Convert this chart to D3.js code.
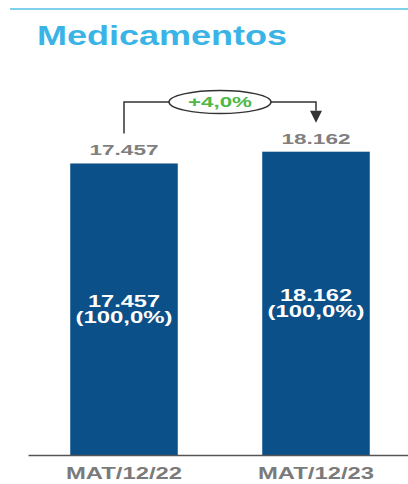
<!DOCTYPE html>
<html>
<head>
<meta charset="utf-8">
<script src="https://cdn.jsdelivr.net/npm/d3@7"></script>
<style>
  body { margin: 0; background: #fff; }
  text { font-family: "Liberation Sans", Arial, sans-serif; font-weight: bold; }
</style>
</head>
<body>
<div id="chart"></div>
<script>
const title = "Medicamentos";
const periods = ["MAT/12/22", "MAT/12/23"];
const values = [17457, 18162];
const shares = [1, 1];

const W = 408, H = 484;
const base = 455;

const loc = d3.formatLocale({decimal: ",", thousands: ".", grouping: [3], currency: ["", ""]});
const fmtNum = loc.format(",d");
const fmtPct = loc.format(".1%");
const fmtGrowth = loc.format("+.1%");

const svg = d3.select("#chart").append("svg")
  .attr("width", W).attr("height", H);

// top rule + title
svg.append("line")
  .attr("x1", 10).attr("x2", W).attr("y1", 9).attr("y2", 9)
  .attr("stroke", "#7fd0ea").attr("stroke-width", 2);

svg.append("text")
  .attr("x", 37).attr("y", 45)
  .attr("font-size", 27)
  .attr("fill", "#3ab4e6")
  .attr("textLength", 250).attr("lengthAdjust", "spacingAndGlyphs")
  .text(title);

const x = d3.scaleBand()
  .domain(periods)
  .range([28, 412])
  .paddingInner(0.44)
  .paddingOuter(0.22);

const y = d3.scaleLinear()
  .domain([0, 20000])
  .range([base, 121]);

// bars
svg.append("g").selectAll("rect")
  .data(values)
  .join("rect")
  .attr("x", (d, i) => x(periods[i]))
  .attr("y", d => y(d))
  .attr("width", x.bandwidth())
  .attr("height", d => base - y(d))
  .attr("fill", "#0b5088");

// x axis
const axis = svg.append("g")
  .attr("transform", `translate(0,${base})`)
  .call(d3.axisBottom(x).tickSize(0).tickPadding(13));
axis.select(".domain").attr("stroke", "#555").attr("stroke-width", 1.5);
axis.selectAll("text")
  .attr("font-size", 16)
  .attr("fill", "#7a7a7a")
  .attr("textLength", 116).attr("lengthAdjust", "spacingAndGlyphs");

const cx = i => x(periods[i]) + x.bandwidth() / 2;

// value labels above bars
svg.append("g").selectAll("text")
  .data(values)
  .join("text")
  .attr("x", (d, i) => cx(i))
  .attr("y", d => y(d) - 8)
  .attr("text-anchor", "middle")
  .attr("font-size", 15)
  .attr("fill", "#7f7f7f")
  .attr("textLength", 69).attr("lengthAdjust", "spacingAndGlyphs")
  .text(d => fmtNum(d));

// labels inside bars
const inner = svg.append("g").selectAll("g")
  .data(values)
  .join("g")
  .attr("transform", (d, i) => `translate(${cx(i)},${(y(d) + base) / 2})`);

inner.append("text")
  .attr("y", -2)
  .attr("text-anchor", "middle")
  .attr("font-size", 16)
  .attr("fill", "#fff")
  .attr("textLength", 72).attr("lengthAdjust", "spacingAndGlyphs")
  .text(d => fmtNum(d));

inner.append("text")
  .attr("y", 14)
  .attr("text-anchor", "middle")
  .attr("font-size", 16)
  .attr("fill", "#fff")
  .attr("textLength", 97).attr("lengthAdjust", "spacingAndGlyphs")
  .text((d, i) => "(" + fmtPct(shares[i]) + ")");

// growth bracket
const by = 102;
const x0 = cx(0), x1 = cx(1), mx = (x0 + x1) / 2;
const rx = 51, ry = 11.5;
const bracket = svg.append("g").attr("stroke", "#333").attr("stroke-width", 1.5).attr("fill", "none");

bracket.append("path")
  .attr("d", `M${x0},${y(values[0]) - 30}V${by}H${mx - rx}`);
bracket.append("path")
  .attr("d", `M${mx + rx},${by}H${x1}V${y(values[1]) - 41}`);

svg.append("path")
  .attr("d", `M${x1 - 6},${y(values[1]) - 41}L${x1 + 6},${y(values[1]) - 41}L${x1},${y(values[1]) - 29}Z`)
  .attr("fill", "#333");

svg.append("ellipse")
  .attr("cx", mx).attr("cy", by)
  .attr("rx", rx).attr("ry", ry)
  .attr("fill", "#fff").attr("stroke", "#333").attr("stroke-width", 1.5);

svg.append("text")
  .attr("x", mx).attr("y", by + 5)
  .attr("text-anchor", "middle")
  .attr("font-size", 14)
  .attr("fill", "#4fb848")
  .attr("textLength", 64).attr("lengthAdjust", "spacingAndGlyphs")
  .text(fmtGrowth(values[1] / values[0] - 1));
</script>
</body>
</html>
